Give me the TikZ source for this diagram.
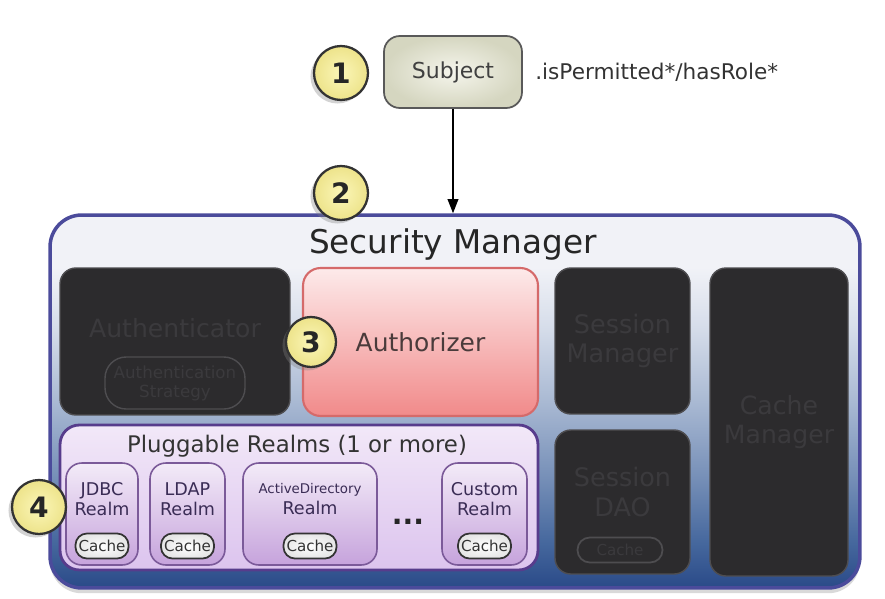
\documentclass[tikz,border=0pt]{standalone}
\usepackage{fontspec}
\setmainfont{DejaVu Sans}
\usetikzlibrary{arrows.meta,shadows}

\definecolor{smtop}{HTML}{F1F2F7}
\definecolor{smhigh}{HTML}{D6DDEA}
\definecolor{smmid}{HTML}{A9B9D3}
\definecolor{smlow}{HTML}{7790B8}
\definecolor{smdeep}{HTML}{45679D}
\definecolor{smbot}{HTML}{2A4A88}
\definecolor{smline}{HTML}{4B4B9B}
\definecolor{badgein}{HTML}{FBF6B8}
\definecolor{badgeout}{HTML}{EDE38A}
\definecolor{subjin}{HTML}{F5F5EC}
\definecolor{subjout}{HTML}{D5D6C0}
\definecolor{darkfill}{HTML}{2C2B2D}
\definecolor{darkline}{HTML}{4E4D50}
\definecolor{darktext}{HTML}{3B3A3D}
\definecolor{authtop}{HTML}{FDEAEA}
\definecolor{authbot}{HTML}{F18A8A}
\definecolor{authline}{HTML}{D56A6A}
\definecolor{authtext}{HTML}{4A3B3B}
\definecolor{plugtop}{HTML}{F2E8F8}
\definecolor{plugbot}{HTML}{DCC4EE}
\definecolor{plugline}{HTML}{573C8C}
\definecolor{realmtop}{HTML}{F3EBF8}
\definecolor{realmbot}{HTML}{C6A3DC}
\definecolor{realmline}{HTML}{7B5A99}
\definecolor{realmtext}{HTML}{3A2C55}

\pgfdeclareverticalshading{smshade}{100bp}{color(0bp)=(smbot); color(25bp)=(smbot);
  color(31bp)=(smdeep); color(40bp)=(smlow); color(50bp)=(smmid);
  color(60bp)=(smhigh); color(68bp)=(smtop); color(100bp)=(smtop)}

\newcommand{\fsz}[1]{\fontsize{#1}{1.15\dimexpr#1pt\relax}\selectfont}

\begin{document}
\begin{tikzpicture}[x=0.02cm,y=-0.02cm,
    numbadge/.style={circle, draw=black!80, line width=1.3pt, inner color=badgein,
      outer color=badgeout, minimum size=1.08cm, inner sep=0pt,
      font=\fsz{16}\bfseries, text=black!85,
      drop shadow={shadow xshift=-2pt, shadow yshift=-2pt, opacity=0.35}},
    subjbox/.style={rounded corners=9pt, draw=black!65, line width=1pt,
      inner color=subjin, outer color=subjout, minimum width=2.76cm,
      minimum height=1.44cm, font=\fsz{12.5}, text=black!75},
    darkbox/.style={rounded corners=9pt, fill=darkfill, draw=darkline,
      line width=0.8pt, text=darktext, align=center},
    realmbox/.style={rounded corners=9pt, draw=realmline, line width=0.9pt,
      top color=realmtop, bottom color=realmbot, minimum height=2.04cm},
    realmlbl/.style={font=\fsz{10}, text=realmtext, align=center, inner sep=0pt},
    cachepill/.style={rounded corners=6.5pt, draw=black!80, line width=1pt,
      inner color=white, outer color=black!10, minimum width=1.06cm,
      minimum height=0.5cm, inner sep=0pt, font=\fsz{8.6}, text=black!80}
  ]
  \useasboundingbox (0,0) rectangle (885,598);

  % subject and call
  \node[subjbox] (subject) at (453,72) {Subject};
  \node[numbadge] (n1) at (341,73) {1};
  \node[font=\fsz{12.3}, text=black!80, anchor=west, inner sep=0pt] (calls) at (535,72)
    {.isPermitted*/hasRole*};

  % security manager
  \node[rounded corners=18pt, draw=smline, line width=2pt, shading=smshade,
    minimum width=16.2cm, minimum height=7.46cm,
    drop shadow={shadow xshift=0pt, shadow yshift=-3pt, opacity=0.3}] (secmgr) at (455,401.5) {};
  \node[font=\fsz{18.6}, text=black!85] (smtitle) at (453,244) {Security Manager};
  \node[numbadge] (n2) at (341,193) {2};
  \draw[line width=1pt, -{Triangle[length=8pt,width=6pt]}] (subject.south) -- (secmgr.north -| subject.south);

  % dark (inactive) components
  \node[darkbox, minimum width=4.6cm, minimum height=2.94cm] (authc) at (175,341.5) {};
  \node[font=\fsz{14.3}, text=darktext] (authclbl) at (175,328) {Authenticator};
  \node[rounded corners=12pt, draw=darkline, line width=0.8pt, minimum width=2.8cm,
    minimum height=1.04cm, align=center, font=\fsz{9.5}, text=darktext, inner sep=0pt]
    (strategy) at (175,383) {Authentication\\Strategy};
  \node[darkbox, minimum width=2.7cm, minimum height=2.92cm, font=\fsz{14.5}] (sessmgr)
    at (622.5,341) {Session\\Manager};
  \node[darkbox, minimum width=2.7cm, minimum height=2.88cm] (sessdao) at (622.5,502) {};
  \node[font=\fsz{14.5}, text=darktext, align=center] (daolbl) at (622.5,492) {Session\\DAO};
  \node[cachepill, draw=darkline, inner color=darkfill, outer color=darkfill,
    text=darktext, minimum width=1.7cm, minimum height=0.5cm, rounded corners=7pt]
    (daocache) at (620,550) {Cache};
  \node[darkbox, minimum width=2.76cm, minimum height=6.16cm, font=\fsz{14.3}] (cachemgr)
    at (779,422) {Cache\\Manager};

  % authorizer
  \node[rounded corners=10pt, draw=authline, line width=1.2pt, top color=authtop,
    bottom color=authbot, minimum width=4.7cm, minimum height=2.96cm,
    font=\fsz{14.2}, text=authtext] (authz) at (420.5,342) {Authorizer};
  \node[numbadge, minimum size=1.0cm] (n3) at (311,342) {3};

  % realms
  \node[rounded corners=11pt, draw=plugline, line width=1.6pt, top color=plugtop,
    bottom color=plugbot, minimum width=9.56cm, minimum height=2.9cm] (realms) at (299,497.5) {};
  \node[font=\fsz{13}, text=black!80] (realmstitle) at (297,446) {Pluggable Realms (1 or more)};
  \foreach \nm/\cx/\w/\txt in {%
    jdbc/102/1.44/JDBC\\Realm,
    ldap/187.5/1.5/LDAP\\Realm,
    ad/310/2.68/{\fsz{7.6}ActiveDirectory\\Realm},
    custom/484.5/1.7/Custom\\Realm%
  }{
    \node[realmbox, minimum width=\w cm] (\nm) at (\cx,514) {};
    \node[realmlbl] (\nm-lbl) at (\cx,499) {\txt};
    \node[cachepill] (\nm-cache) at (\cx,546) {Cache};
  }
  \node[font=\fsz{16}\bfseries, text=black!85] (more) at (408,522) {...};
  \node[numbadge] (n4) at (39,507) {4};
\end{tikzpicture}
\end{document}
